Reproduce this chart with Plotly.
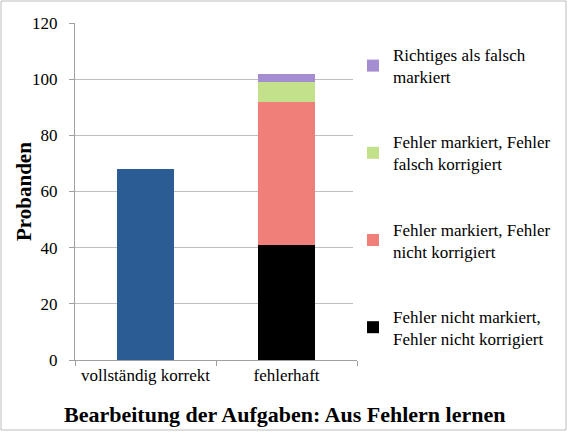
import plotly.graph_objects as go

categories = ["vollständig korrekt", "fehlerhaft"]
korrekt = [68, 0]
series_names = [
    "Fehler nicht markiert,<br>Fehler nicht korrigiert",
    "Fehler markiert, Fehler<br>nicht korrigiert",
    "Fehler markiert, Fehler<br>falsch korrigiert",
    "Richtiges als falsch<br>markiert",
]
series_values = [41, 51, 7, 3]
series_colors = ["#000000", "#EF7F78", "#C3E08A", "#A48DD0"]
y_ticks = [0, 20, 40, 60, 80, 100, 120]

W, H = 568, 432
L, R, T, B = 75, 211, 23, 72
pw, ph = W - L - R, H - T - B

fig = go.Figure()
fig.add_trace(go.Bar(x=[categories[0]], y=[korrekt[0]], marker_color="#2B5C94",
                     marker_line_width=0, showlegend=False, name="vollständig korrekt"))
for i, (n, v, c) in enumerate(zip(series_names, series_values, series_colors)):
    fig.add_trace(go.Bar(x=[categories[1]], y=[v], name=n, marker_color=c,
                         marker_line_width=0, legendgroup=f"g{i}", legendrank=10 - i))

font = "Liberation Serif, Times New Roman, serif"
fig.update_layout(
    width=W, height=H,
    margin=dict(l=L, r=R, t=T, b=B, autoexpand=False),
    barmode="stack", bargap=0.6,
    plot_bgcolor="white", paper_bgcolor="white",
    font=dict(family=font, size=17, color="#000"),
    legend=dict(x=(353 - L) / pw, y=(360 - 37) / ph, xanchor="left", yanchor="top",
                traceorder="grouped", tracegroupgap=40,
                font=dict(family=font, size=17), itemwidth=30),
    xaxis=dict(showline=True, linecolor="#A0A0A0", ticks="outside", tickson="boundaries",
               tickcolor="#A0A0A0", ticklen=5, tickangle=0, automargin=False,
               tickfont=dict(family=font, size=17)),
    yaxis=dict(range=[0, 120], tickvals=y_ticks, showgrid=True, gridcolor="#BFBFBF",
               showline=True, linecolor="#A0A0A0", ticks="outside", tickcolor="#A0A0A0",
               ticklen=5, tickfont=dict(family=font, size=17), zeroline=False,
               automargin=False, ticklabelstandoff=8),
    annotations=[
        dict(text="<b>Bearbeitung der Aufgaben: Aus Fehlern lernen</b>",
             xref="paper", yref="paper", x=(284 - L) / pw, y=(360 - 414) / ph,
             xanchor="center", yanchor="middle", showarrow=False,
             font=dict(family=font, size=22)),
        dict(text="<b>Probanden</b>", textangle=-90,
             xref="paper", yref="paper", x=(24 - L) / pw, y=(360 - 192) / ph,
             xanchor="center", yanchor="middle", showarrow=False,
             font=dict(family=font, size=21)),
    ],
    shapes=[dict(type="rect", xref="paper", yref="paper",
                 x0=(1 - L) / pw, x1=(566 - L) / pw, y0=(360 - 430) / ph, y1=(360 - 1) / ph,
                 line=dict(color="#BDBDBD", width=1), layer="below")],
)
fig.write_html("out.html", config={"displayModeBar": False},
               post_script="document.body.style.margin='0';")
